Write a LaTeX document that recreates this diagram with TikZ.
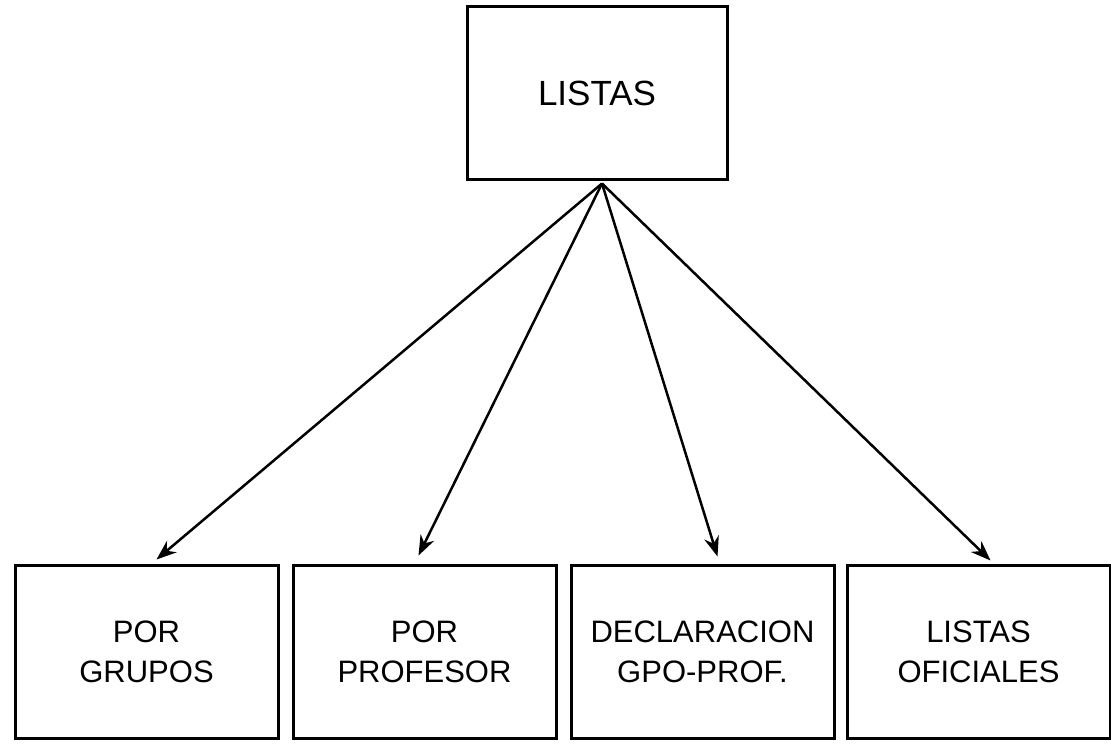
\documentclass[tikz,border=0pt]{standalone}
\usepackage{fontspec}
\setmainfont{Liberation Sans}
\usetikzlibrary{positioning,arrows.meta}
\begin{document}
\begin{tikzpicture}[x=1pt, y=-1pt, line width=3pt,
    main/.style = {draw, minimum width=263pt, minimum height=173pt, align=center,
                   font=\fontsize{31}{40}\selectfont, inner sep=0pt},
    arr/.style = {-{Stealth[length=20pt,width=15pt]}, line width=2.5pt}]
    \useasboundingbox (0,0) rectangle (1111,749);
    \node[main, minimum width=260pt, minimum height=172pt, font=\fontsize{35}{40}\selectfont] (listas) at (597,93) {LISTAS};
    \node[main] (grupos) at (146.5,651.5) {POR\\GRUPOS};
    \node[main] (profesor) [right=12pt of grupos] {POR\\PROFESOR};
    \node[main] (declaracion) [right=12pt of profesor] {DECLARACION\\GPO-PROF.};
    \node[main] (oficiales) [right=10pt of declaracion] {LISTAS\\OFICIALES};
    \coordinate (hub) at ([xshift=5pt,yshift=-3pt]listas.south);
    \draw[arr] (hub) -- ([shift={(10pt,4pt)}]grupos.north);
    \draw[arr] (hub) -- ([shift={(-6pt,8pt)}]profesor.north);
    \draw[arr] (hub) -- ([shift={(15pt,7pt)}]declaracion.north);
    \draw[arr] (hub) -- ([shift={(12pt,3pt)}]oficiales.north);
\end{tikzpicture}
\end{document}
